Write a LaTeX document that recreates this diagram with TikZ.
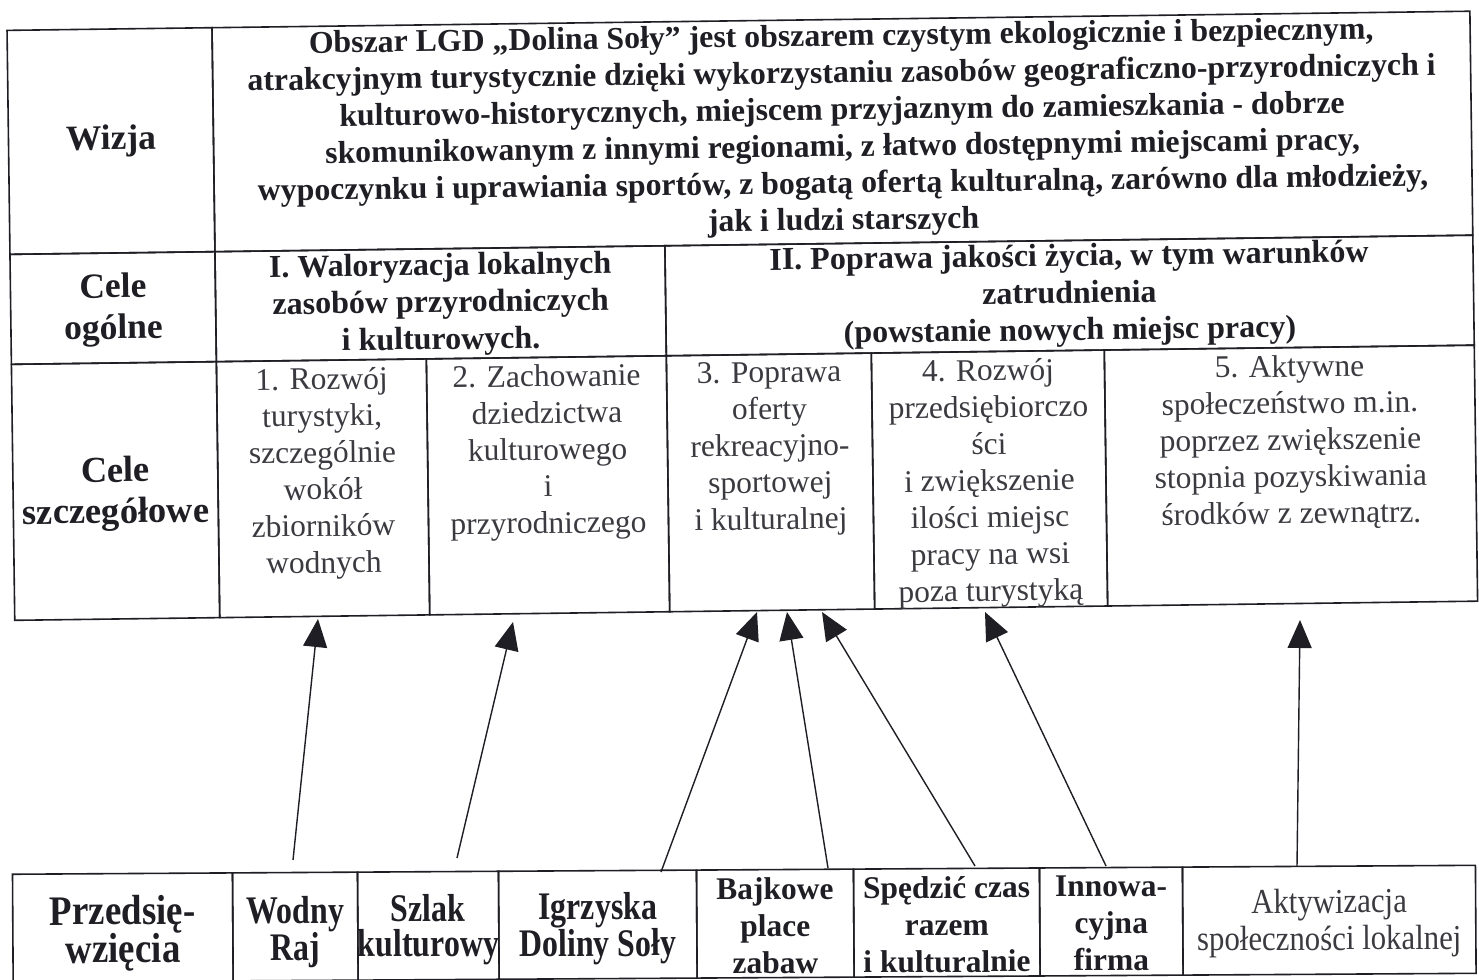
\documentclass[tikz,border=0pt]{standalone}
\usepackage{fontspec}
\setmainfont{Liberation Serif}
\newfontfamily\condfont[FakeStretch=0.82]{Liberation Serif}
\newfontfamily\semicondfont[FakeStretch=0.88]{Liberation Serif}
\usetikzlibrary{arrows.meta,calc}
\definecolor{ink}{HTML}{1E1E24}
\definecolor{softink}{HTML}{3A3A40}
\newcommand\mkcell[5]{\node[cellbox,minimum width=#4pt,minimum height=#5pt] (#1) at (#2,#3) {};}
\begin{document}
\begin{tikzpicture}[x=1pt,y=-1pt,
  cellbox/.style={draw=ink,line width=1.6pt,rectangle,inner sep=0pt,anchor=north west},
  txt/.style={align=center,inner sep=0pt,text=ink},
  lbl/.style={txt,font=\fontsize{35.5}{41}\selectfont\bfseries},
  vis/.style={txt,font=\fontsize{31.8}{36.8}\selectfont\bfseries},
  gen/.style={txt,font=\fontsize{32}{37}\selectfont\bfseries},
  spec/.style={txt,anchor=north,text=softink,font=\fontsize{31.5}{36.7}\selectfont},
  proj/.style={txt,font=\fontsize{31.5}{37}\selectfont\bfseries},
  projc/.style={txt,font=\condfont\fontsize{39}{35}\selectfont\bfseries},
  arr/.style={draw=ink,line width=1.4pt,-{Triangle[length=28pt,width=24pt]}}]
\useasboundingbox (0,0) rectangle (1479,979);
\fill[white] (0,0) rectangle (1479,979);
% ---------- upper table ----------
\begin{scope}[rotate around={0.75:(740,315)},transform shape]
\mkcell{wizL}{10}{20}{205}{224}
\mkcell{wizT}{215}{20}{1258}{224}
\mkcell{ogL}{10}{244}{205}{110}
\mkcell{og1}{215}{244}{450}{110}
\mkcell{og2}{665}{244}{808}{110}
\mkcell{szL}{10}{354}{205}{256}
\mkcell{sz1}{215}{354}{210}{256}
\mkcell{sz2}{425}{354}{240}{256}
\mkcell{sz3}{665}{354}{205}{256}
\mkcell{sz4}{870}{354}{233}{256}
\mkcell{sz5}{1103}{354}{370}{256}
\node[lbl] (tWiz) at (wizL.center) {Wizja};
\node[vis] (tVis) at ($(wizT.center)+(0,-1)$) {Obszar LGD „Dolina Soły” jest obszarem czystym ekologicznie i bezpiecznym,\\
atrakcyjnym turystycznie dzięki wykorzystaniu zasobów geograficzno-przyrodniczych i\\
kulturowo-historycznych, miejscem przyjaznym do zamieszkania - dobrze\\
skomunikowanym z innymi regionami, z łatwo dostępnymi miejscami pracy,\\
wypoczynku i uprawiania sportów, z bogatą ofertą kulturalną, zarówno dla młodzieży,\\
jak i ludzi starszych};
\node[lbl] (tOg) at ($(ogL.center)+(0,2)$) {Cele\\ogólne};
\node[gen] (tOg1) at ($(og1.center)+(0,1)$) {I. Waloryzacja lokalnych\\zasobów przyrodniczych\\i kulturowych.};
\node[gen] (tOg2) at ($(og2.center)+(0,0)$) {II. Poprawa jakości życia, w tym warunków\\zatrudnienia\\(powstanie nowych miejsc pracy)};
\node[lbl,font=\fontsize{36.5}{41}\selectfont\bfseries] (tSz) at ($(szL.center)+(0,3)$) {Cele\\szczegółowe};
\node[spec] (tSz1) at ($(sz1.north)+(0,8)$) {1. Rozwój\\turystyki,\\szczególnie\\wokół\\zbiorników\\wodnych};
\node[spec] (tSz2) at ($(sz2.north)+(0,8)$) {2. Zachowanie\\dziedzictwa\\kulturowego\\i\\przyrodniczego};
\node[spec] (tSz3) at ($(sz3.north)+(0,8)$) {3. Poprawa\\oferty\\rekreacyjno-\\sportowej\\i kulturalnej};
\node[spec] (tSz4) at ($(sz4.north)+(0,8)$) {4. Rozwój\\przedsiębiorczo\\ści\\i zwiększenie\\ilości miejsc\\pracy na wsi\\poza turystyką};
\node[spec] (tSz5) at ($(sz5.north)+(0,8)$) {5. Aktywne\\społeczeństwo m.in.\\poprzez zwiększenie\\stopnia pozyskiwania\\środków z zewnątrz.};
\end{scope}
% ---------- lower table ----------
\begin{scope}[rotate around={0.35:(740,925)},transform shape]
\mkcell{pL}{12}{869}{220}{108}
\mkcell{p1}{232}{869}{125}{108}
\mkcell{p2}{357}{869}{141}{108}
\mkcell{p3}{498}{869}{198}{108}
\mkcell{p4}{696}{869}{157}{108}
\mkcell{p5}{853}{869}{186}{108}
\mkcell{p6}{1039}{869}{143}{108}
\mkcell{p7}{1182}{869}{293}{108}
\node[txt,font=\semicondfont\fontsize{42}{38}\selectfont\bfseries] (tP) at ($(pL.center)+(0,6)$) {Przedsię-\\wzięcia};
\node[projc] (tP1) at ($(p1.center)+(0,6)$) {Wodny\\Raj};
\node[projc] (tP2) at ($(p2.center)+(0,4)$) {Szlak\\kulturowy};
\node[projc] (tP3) at ($(p3.center)+(0,4)$) {Igrzyska\\Doliny Soły};
\node[proj] (tP4) at ($(p4.center)+(0,2)$) {Bajkowe\\place\\zabaw};
\node[proj] (tP5) at ($(p5.center)+(0,2)$) {Spędzić czas\\razem\\i kulturalnie};
\node[proj] (tP6) at ($(p6.center)+(0,2)$) {Innowa-\\cyjna\\firma};
\node[txt,font=\semicondfont\fontsize{35}{37}\selectfont,text=softink] (tP7) at ($(p7.center)+(0,3)$) {Aktywizacja\\społeczności lokalnej};
\end{scope}
% ---------- arrows ----------
\coordinate (s1) at (293,860);  \coordinate (e1) at (318,619);
\coordinate (s2) at (457,858);  \coordinate (e2) at (513,622);
\coordinate (s3) at (661,872);  \coordinate (e3) at (757,612);
\coordinate (s4) at (828,868);  \coordinate (e4) at (787,612);
\coordinate (s5) at (975,866);  \coordinate (e5) at (822,612);
\coordinate (s6) at (1106,866); \coordinate (e6) at (985,612);
\coordinate (s7) at (1297,866); \coordinate (e7) at (1300,620);
\foreach \i in {1,...,7} {\draw[arr] (s\i) -- (e\i);}
\end{tikzpicture}
\end{document}
